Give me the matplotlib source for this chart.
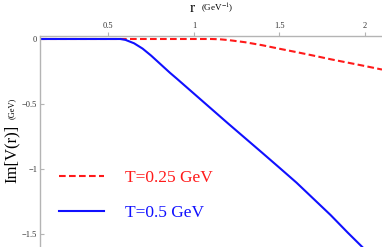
import numpy as np
import matplotlib
matplotlib.use("Agg")
from matplotlib import pyplot as plt

plt.rcParams['font.family'] = ['Liberation Serif', 'DejaVu Serif']
plt.rcParams['mathtext.fontset'] = 'stix'

# values
r_blue = [0.1, 0.3, 0.5, 0.57, 0.6, 0.65, 0.7, 0.75, 0.8, 0.86, 0.9, 1.0, 1.1, 1.2,
          1.3, 1.4, 1.5, 1.6, 1.7, 1.8, 1.9, 2.0, 2.1]
v_blue = [0, 0, 0, 0, -0.007, -0.033, -0.074, -0.128, -0.188, -0.26, -0.305, -0.42, -0.535, -0.65,
          -0.763, -0.876, -0.99, -1.105, -1.23, -1.355, -1.49, -1.62, -1.75]
r_red = [0.1, 0.5, 1.0, 1.1, 1.15, 1.2, 1.3, 1.4, 1.5, 1.6, 1.7, 1.8, 1.9, 2.0, 2.1]
v_red = [0, 0, 0, 0, -0.002, -0.008, -0.025, -0.048, -0.075, -0.101, -0.128, -0.156,
         -0.182, -0.208, -0.235]

xticks = [0.5, 1, 1.5, 2]
xlabels = ["0.5", "1", "1.5", "2"]
yticks = [0, -0.5, -1, -1.5]
ylabels = ["0", "\u22120.5", "\u22121", "\u22121.5"]

fig = plt.figure(figsize=(3.82, 2.47), dpi=100)
ax = fig.add_axes([40/382, 0, 342/382, 211/247])

ax.plot(r_red, v_red, color='#ff1a1a', lw=1.5, dashes=(3.2, 1.6), label='T=0.25 GeV')
ax.plot(r_blue, v_blue, color='#1010ff', lw=1.5, label='T=0.5 GeV')

ax.set_xlim(0.1, 2.1)
ax.set_ylim(-1.6, 0.023)

gray = '#b4b4b4'
for s in ['bottom', 'right']:
    ax.spines[s].set_visible(False)
for s in ['top', 'left']:
    ax.spines[s].set_color(gray)
    ax.spines[s].set_linewidth(1.0)

ax.xaxis.tick_top()
ax.set_xticks(xticks)
ax.set_xticklabels(xlabels)
ax.set_yticks(yticks)
ax.set_yticklabels(ylabels)
ax.tick_params(axis='x', direction='out', length=3, width=0.8, color=gray,
               labelsize=6, labelcolor='#333333', pad=1)
ax.tick_params(axis='y', direction='in', length=3, width=0.8, color=gray,
               labelsize=6, labelcolor='#333333', pad=2)

fig.text(192/382, 1 - 8/247, "r", fontsize=11, ha='center', va='center')
fig.text(201/382, 1 - 8/247, "(GeV$^{-1}$)", fontsize=6.5, ha='left', va='center')
fig.text(12/382, 1 - 154/247, "Im[V(r)]", fontsize=12, rotation=90, ha='center', va='center')
fig.text(12/382, 1 - 108/247, "(GeV)", fontsize=6, rotation=90, ha='center', va='center')

leg = ax.legend(loc='upper left', bbox_to_anchor=(0.035, 0.40), frameon=False,
                fontsize=12.5, handlelength=2.6, handletextpad=1.2, labelspacing=1.1,
                labelcolor='linecolor', borderaxespad=0)

fig.savefig("out.png", dpi=100)
